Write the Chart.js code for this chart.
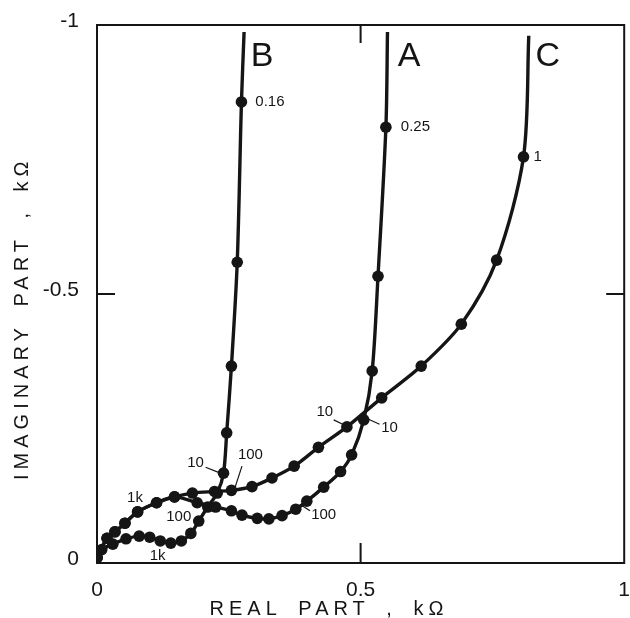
<!DOCTYPE html>
<html>
<head>
<meta charset="utf-8">
<script src="https://cdn.jsdelivr.net/npm/chart.js@4.4.1/dist/chart.umd.min.js"></script>
<style>
  html, body { margin: 0; padding: 0; background: #fff; }
  #wrap { width: 630px; height: 618px; }
</style>
</head>
<body>
<div id="wrap"><canvas id="chart"></canvas></div>
<script>
// curve A (real part, imaginary part in kOhm)
const aReal = [0, 0.019, 0.034, 0.053, 0.077, 0.113, 0.147, 0.19, 0.225, 0.255, 0.275, 0.304, 0.326, 0.351, 0.377, 0.398, 0.43, 0.462, 0.483, 0.506, 0.522, 0.533, 0.548, 0.551];
const aImag = [-0.01, -0.046, -0.058, -0.074, -0.095, -0.112, -0.123, -0.112, -0.104, -0.097, -0.089, -0.083, -0.082, -0.088, -0.1, -0.115, -0.141, -0.17, -0.201, -0.266, -0.357, -0.533, -0.81, -0.987];

// curve B
const bReal = [0, 0.009, 0.03, 0.055, 0.08, 0.1, 0.12, 0.14, 0.16, 0.178, 0.193, 0.21, 0.228, 0.24, 0.246, 0.255, 0.266, 0.274, 0.279];
const bImag = [-0.01, -0.025, -0.035, -0.045, -0.05, -0.048, -0.041, -0.037, -0.041, -0.055, -0.078, -0.104, -0.13, -0.167, -0.242, -0.366, -0.559, -0.857, -0.987];

// curve C
const cReal = [0, 0.019, 0.034, 0.053, 0.077, 0.113, 0.147, 0.181, 0.223, 0.255, 0.294, 0.332, 0.374, 0.42, 0.474, 0.54, 0.615, 0.691, 0.758, 0.809, 0.819];
const cImag = [-0.01, -0.046, -0.058, -0.074, -0.095, -0.112, -0.123, -0.13, -0.133, -0.135, -0.142, -0.158, -0.18, -0.215, -0.253, -0.307, -0.366, -0.444, -0.563, -0.755, -0.98];

const xTicks = [0, 0.5, 1];
const xTickLabels = ["0", "0.5", "1"];
const yTicks = [-1, -0.5, 0];
const yTickLabels = ["-1", "-0.5", "0"];

// curve names and frequency labels (Hz), placed in data units
const curveNames = [
    { text: "B", x: 0.313, y: -0.941 },
    { text: "A", x: 0.592, y: -0.942 },
    { text: "C", x: 0.855, y: -0.942 }
];
const freqLabels = [
    { text: "0.16", x: 0.328, y: -0.857 },
    { text: "0.25", x: 0.604, y: -0.81 },
    { text: "1", x: 0.836, y: -0.755 },
    { text: "10", x: 0.187, y: -0.186, from: [0.206, -0.178], to: [0.234, -0.167] },
    { text: "100", x: 0.291, y: -0.201, from: [0.275, -0.18], to: [0.262, -0.141] },
    { text: "1k", x: 0.072, y: -0.121 },
    { text: "100", x: 0.155, y: -0.086 },
    { text: "1k", x: 0.115, y: -0.013 },
    { text: "10", x: 0.432, y: -0.281, from: [0.449, -0.266], to: [0.472, -0.255] },
    { text: "10", x: 0.555, y: -0.251, from: [0.536, -0.258], to: [0.513, -0.268] },
    { text: "100", x: 0.43, y: -0.089, from: [0.404, -0.097], to: [0.387, -0.108] }
];

const INK = "#151515";
const FONT = "'Liberation Sans', Arial, sans-serif";

function pts(xs, ys) {
    return xs.map((v, i) => ({ x: v, y: ys[i] }));
}

function curve(xs, ys) {
    return {
        data: pts(xs, ys),
        showLine: true,
        borderColor: INK,
        borderWidth: 3.4,
        backgroundColor: INK,
        pointBackgroundColor: INK,
        pointBorderWidth: 0,
        // no dot at the open end of each curve
        pointRadius: ctx => ctx.dataIndex === xs.length - 1 ? 0 : 5.8,
        tension: 0.3
    };
}

const annotations = {
    id: "annotations",
    afterDatasetsDraw(chart) {
        const { ctx, chartArea: a, scales: { x, y } } = chart;
        ctx.save();
        ctx.fillStyle = INK;
        ctx.strokeStyle = INK;

        // box round the plot
        ctx.lineWidth = 2;
        ctx.strokeRect(a.left, a.top, a.right - a.left, a.bottom - a.top);

        // inward tick marks at the middle values
        ctx.beginPath();
        xTicks.slice(1, -1).forEach(v => {
            const px = x.getPixelForValue(v);
            ctx.moveTo(px, a.bottom); ctx.lineTo(px, a.bottom - 20);
            ctx.moveTo(px, a.top); ctx.lineTo(px, a.top + 18);
        });
        yTicks.slice(1, -1).forEach(v => {
            const py = y.getPixelForValue(v);
            ctx.moveTo(a.left, py); ctx.lineTo(a.left + 18, py);
            ctx.moveTo(a.right, py); ctx.lineTo(a.right - 18, py);
        });
        ctx.stroke();

        ctx.textAlign = "center";
        ctx.textBaseline = "middle";
        ctx.font = "34px " + FONT;
        curveNames.forEach(n => ctx.fillText(n.text, x.getPixelForValue(n.x), y.getPixelForValue(n.y)));

        ctx.font = "15px " + FONT;
        ctx.lineWidth = 1.2;
        freqLabels.forEach(l => {
            ctx.fillText(l.text, x.getPixelForValue(l.x), y.getPixelForValue(l.y));
            if (l.from) {
                ctx.beginPath();
                ctx.moveTo(x.getPixelForValue(l.from[0]), y.getPixelForValue(l.from[1]));
                ctx.lineTo(x.getPixelForValue(l.to[0]), y.getPixelForValue(l.to[1]));
                ctx.stroke();
            }
        });

        // axis titles, letter spaced like the original lettering
        ctx.font = "20px " + FONT;
        ctx.letterSpacing = "5px";
        ctx.wordSpacing = "6px";
        ctx.fillText("REAL PART , k\u03a9", a.left + (a.right - a.left) * 0.44, a.bottom + 46);
        ctx.translate(22, a.top + (a.bottom - a.top) * 0.545);
        ctx.rotate(-Math.PI / 2);
        ctx.fillText("IMAGINARY PART , k\u03a9", 0, 0);
        ctx.restore();
    }
};

const ctx = document.getElementById("chart").getContext("2d");

new Chart(ctx, {
    type: "scatter",
    data: {
        datasets: [curve(aReal, aImag), curve(bReal, bImag), curve(cReal, cImag)]
    },
    options: {
        responsive: true,
        maintainAspectRatio: false,
        animation: false,
        events: [],
        layout: { padding: { top: 25, right: 3, left: 0, bottom: 0 } },
        plugins: { legend: { display: false }, tooltip: { enabled: false } },
        scales: {
            x: {
                type: "linear",
                min: 0,
                max: 1,
                afterBuildTicks: s => { s.ticks = xTicks.map(v => ({ value: v })); },
                afterFit: s => { s.height = 55; s.paddingRight = 0; s.paddingLeft = 0; },
                grid: { display: false },
                border: { display: false },
                ticks: {
                    padding: 7,
                    color: INK,
                    font: { family: FONT, size: 21 },
                    callback: (v, i) => xTickLabels[i]
                }
            },
            y: {
                type: "linear",
                min: -1,
                max: 0,
                reverse: true,
                afterBuildTicks: s => { s.ticks = yTicks.map(v => ({ value: v })); },
                afterFit: s => { s.width = 97; s.paddingTop = 0; s.paddingBottom = 0; },
                grid: { display: false },
                border: { display: false },
                ticks: {
                    padding: 10,
                    labelOffset: -4,
                    color: INK,
                    font: { family: FONT, size: 21 },
                    callback: (v, i) => yTickLabels[i]
                }
            }
        }
    },
    plugins: [annotations]
});
</script>
</body>
</html>
